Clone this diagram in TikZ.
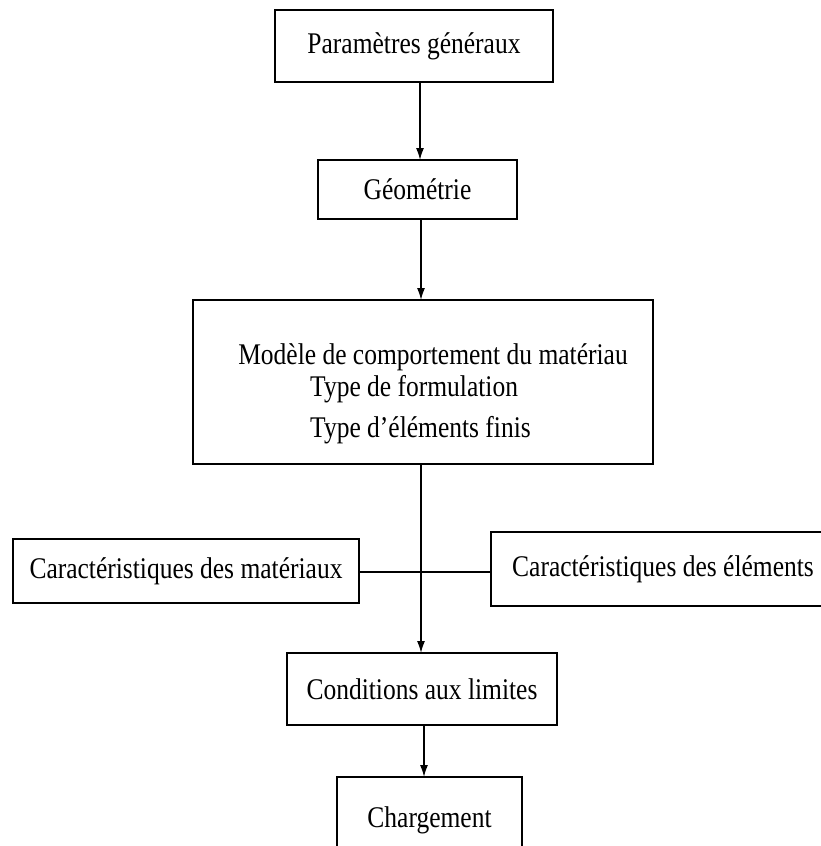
\documentclass[tikz,border=0pt]{standalone}
\usepackage{fontspec}
\setmainfont{Liberation Serif}[FakeStretch=0.85]
\usetikzlibrary{arrows.meta}
\tikzset{
  box/.style={draw=black, line width=1.6pt, rectangle, inner sep=0pt, font=\fontsize{30}{38}\selectfont},
  txt/.style={inner sep=0pt, font=\fontsize{30}{38}\selectfont},
  conn/.style={line width=1.5pt, -{Latex[length=12pt,width=8pt]}},
  plain/.style={line width=1.5pt}
}
\begin{document}
\begin{tikzpicture}[x=1pt,y=-1pt]
\useasboundingbox (0,0) rectangle (821,846);
\clip (0,0) rectangle (821,846);
\node[box, minimum width=278pt, minimum height=72pt] (p) at (414,46) {Paramètres généraux};
\node[box, minimum width=199pt, minimum height=59pt] (g) at (417.5,189.5) {Géométrie};
\node[box, minimum width=460pt, minimum height=164pt] (m) at (423,382) {};
\node[txt, anchor=base] (m1) at (433,364) {Modèle de comportement du matériau};
\node[txt, anchor=base west] (m2) at (310,396) {Type de formulation};
\node[txt, anchor=base west] (m3) at (310,437) {Type d’éléments finis};
\node[box, minimum width=346pt, minimum height=64pt] (cm) at (186,571) {Caractéristiques des matériaux};
\node[box, minimum width=344pt, minimum height=74pt] (ce) at (663,569) {Caractéristiques des éléments};
\node[box, minimum width=270pt, minimum height=72pt] (cl) at (422,689) {Conditions aux limites};
\node[box, minimum width=185pt, minimum height=86pt] (ch) at (429.5,820) {Chargement};

\coordinate (a1) at (420,82);
\coordinate (a2) at (420,160);
\coordinate (b1) at (421,219);
\coordinate (b2) at (421,300);
\coordinate (c1) at (421,464);
\coordinate (c2) at (421,653);
\coordinate (d1) at (424,725);
\coordinate (d2) at (424,777);

\draw[conn] (a1) -- (a2);
\draw[conn] (b1) -- (b2);
\draw[conn] (c1) -- (c2);
\draw[conn] (d1) -- (d2);
\draw[plain] (cm.east |- 0,572) -- (ce.west |- 0,572);
\end{tikzpicture}
\end{document}
